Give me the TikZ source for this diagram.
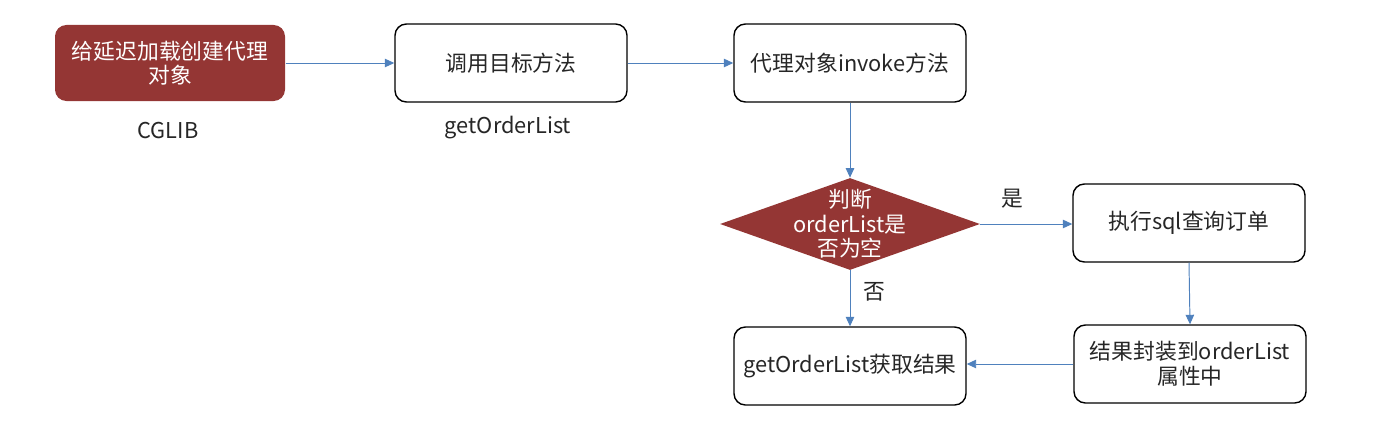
\documentclass[tikz,border=0pt]{standalone}
\usepackage{fontspec}
\setmainfont{Noto Sans CJK SC}
\usetikzlibrary{shapes.geometric,arrows.meta,positioning}
\definecolor{boxred}{HTML}{943634}
\definecolor{lineblue}{HTML}{4F81BD}
\definecolor{txtgray}{HTML}{262626}

\begin{document}
\begin{tikzpicture}[
  every node/.style={font=\fontsize{12.4}{14}\selectfont, text=txtgray},
  proc/.style={draw, line width=0.8pt, rectangle, rounded corners=6.5pt,
               minimum width=4.64cm, minimum height=1.56cm, align=center, inner sep=2pt},
  start/.style={proc, draw=none, fill=boxred, text=white,
                minimum width=4.6cm, minimum height=1.52cm},
  dec/.style={draw=none, fill=boxred, diamond, inner sep=0pt,
              minimum width=5.2cm, minimum height=1.84cm},
  dectxt/.style={text=white, align=center, font=\fontsize{12.4}{14}\selectfont},
  ar/.style={-{Triangle[length=1.9mm,width=1.7mm]}, line width=0.55pt, draw=lineblue}]

\useasboundingbox (0,0) rectangle (27.98,8.42);

%% --- top row ---
\node[start] (PRX)  at ( 3.40, 7.16) {给延迟加载创建代理\\对象};
\node        (CGL)  at ( 3.36, 5.80) {CGLIB};
\node[proc]  (CALL) at (10.22, 7.16) {调用目标方法};
\node        (GOL)  at (10.16, 5.86) {getOrderList};
\node[proc]  (INV)  at (17.00, 7.16) {代理对象invoke方法};

%% --- decision ---
\node[dec, label={[dectxt]center:判断\\orderList是\\否为空}] (CHK) at (17.00, 3.94) {};
\node        (YES)  at (20.24, 4.44) {是};
\node        (NO)   at (17.48, 2.58) {否};

%% --- lower boxes ---
\node[proc]  (SQL)  at (23.78, 3.96) {执行sql查询订单};
\node[proc]  (SET)  at (23.80, 1.14) {结果封装到orderList\\属性中};
\node[proc]  (RES)  at (17.00, 1.10) {getOrderList获取结果};

%% --- arrows ---
\draw[ar] (PRX.east) -- (CALL.west);
\draw[ar] (CALL.east) -- (INV.west);
\draw[ar] (INV.south) -- (CHK.north);
\draw[ar] (CHK.east) -- (CHK.east -| SQL.west);
\draw[ar] (CHK.south) -- (RES.north);
\draw[ar] (SQL.south) -- (SET.north);
\draw[ar] (SET.west) -- (SET.west -| RES.east);
\end{tikzpicture}
\end{document}
